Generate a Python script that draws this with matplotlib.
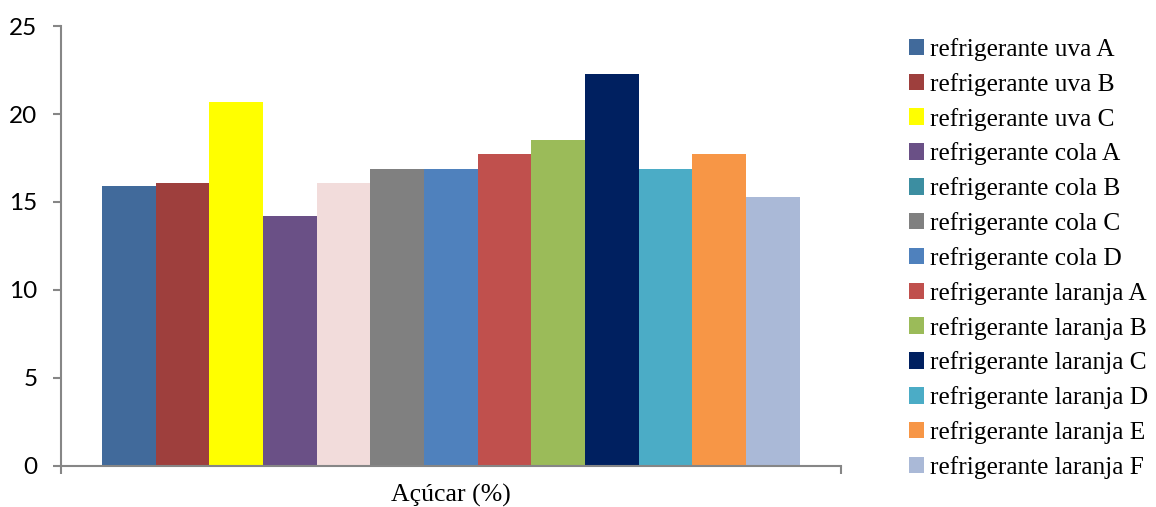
import matplotlib
matplotlib.use('Agg')
import matplotlib.pyplot as plt
from matplotlib.patches import Patch
import numpy as np

labels = ['refrigerante uva A', 'refrigerante uva B', 'refrigerante uva C',
          'refrigerante cola A', 'refrigerante cola B', 'refrigerante cola C',
          'refrigerante cola D', 'refrigerante laranja A', 'refrigerante laranja B',
          'refrigerante laranja C', 'refrigerante laranja D', 'refrigerante laranja E',
          'refrigerante laranja F']
acucar = [15.9, 16.1, 20.7, 14.2, 16.1, 16.9, 16.9, 17.7, 18.5, 22.3, 16.9, 17.7, 15.3]
bar_colors = ['#416A9B', '#9E3F3D', '#FFFF00', '#6A5086', '#F2DCDB', '#808080', '#4F81BD',
              '#C0504D', '#9BBB59', '#002060', '#4BACC6', '#F79646', '#AAB9D7']
# legend swatch for "cola B" differs from its bar fill
legend_colors = bar_colors[:4] + ['#3C8EA1'] + bar_colors[5:]
category = 'Açúcar (%)'

fig = plt.figure(figsize=(11.56, 5.07), dpi=100)
ax = fig.add_axes([0.0528, 0.0809, 0.6745, 0.8678])

n = len(acucar)
group = 0.895
w = group / n
x = -group / 2 + w * (np.arange(n) + 0.5)
ax.bar(x, acucar, width=w, color=bar_colors, linewidth=0)

ax.set_xlim(-0.5, 0.5)
ax.set_ylim(0, 25)
ax.set_yticks(range(0, 26, 5))

grey = '#868686'
for s in ['top', 'right']:
    ax.spines[s].set_visible(False)
for s in ['left', 'bottom']:
    ax.spines[s].set_color(grey)
    ax.spines[s].set_linewidth(1.5)
ax.tick_params(axis='y', direction='out', length=6, width=1.5, color=grey, pad=11,
               labelsize=17.5)
for t in ax.get_yticklabels():
    t.set_family('Lato')

ax.set_xticks([-0.5, 0.5])
ax.set_xticklabels(['', ''])
ax.tick_params(axis='x', direction='out', length=6, width=1.5, color=grey)
ax.text(0, -0.04, category, transform=ax.get_xaxis_transform(), ha='center', va='top',
        family='Liberation Serif', fontsize=18.5)

handles = [Patch(facecolor=c, edgecolor='none') for c in legend_colors]
fig.legend(handles, labels, loc='upper left', bbox_to_anchor=(0.786, 0.925),
           frameon=False, prop={'family': 'Liberation Serif', 'size': 18.3},
           handlelength=0.62, handleheight=0.62, handletextpad=0.22,
           labelspacing=0.466, borderaxespad=0, borderpad=0)

fig.savefig('out.png', dpi=100)
